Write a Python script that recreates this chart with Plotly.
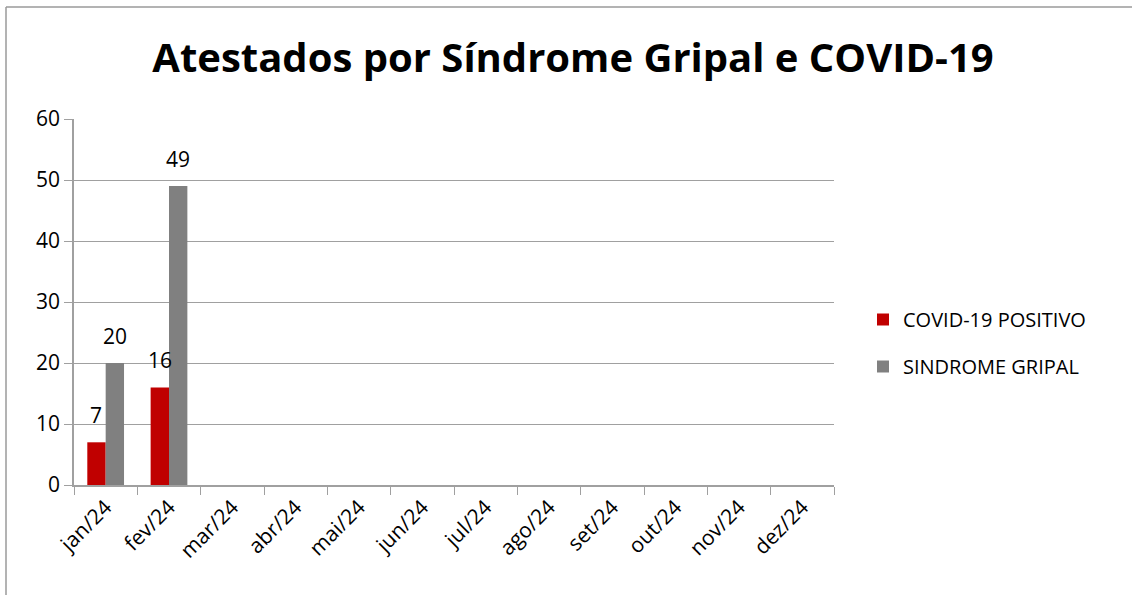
import plotly.graph_objects as go

months = ["jan/24", "fev/24", "mar/24", "abr/24", "mai/24", "jun/24",
          "jul/24", "ago/24", "set/24", "out/24", "nov/24", "dez/24"]
covid = [7, 16, None, None, None, None, None, None, None, None, None, None]
gripal = [20, 49, None, None, None, None, None, None, None, None, None, None]

FONT = "Open Sans"
W, H = 1132, 595
L, R, T, B = 74, 298, 119, 110
pw, ph = W - L - R, H - T - B
BARGAP = 0.42
half_bar = pw / len(months) * (1 - BARGAP) / 4  # centre offset of each bar

fig = go.Figure()
fig.add_trace(go.Bar(x=months, y=covid, name="COVID-19 POSITIVO",
                     marker=dict(color="#C00000", line=dict(width=0)),
                     legendgroup="a"))
fig.add_trace(go.Bar(x=months, y=gripal, name="SINDROME GRIPAL",
                     marker=dict(color="#808080", line=dict(width=0)),
                     legendgroup="b"))

# data labels above each bar
for series, sign in ((covid, -1), (gripal, 1)):
    for m, v in zip(months, series):
        if v is None:
            continue
        fig.add_annotation(x=m, y=v, xref="x", yref="y", text=str(v),
                           showarrow=False, xanchor="center", yanchor="bottom",
                           xshift=sign * half_bar, yshift=11,
                           font=dict(size=21, family=FONT, color="black"))

# frame lines (top and left visible)
px = lambda x: (x - L) / pw
py = lambda y: (H - B - y) / ph
fig.add_shape(type="line", xref="paper", yref="paper",
              x0=px(6), x1=px(1140), y0=py(7), y1=py(7),
              line=dict(color="#9a9a9a", width=1.5))
fig.add_shape(type="line", xref="paper", yref="paper",
              x0=px(6), x1=px(6), y0=py(7), y1=py(600),
              line=dict(color="#9a9a9a", width=1.5))

fig.update_layout(
    width=W, height=H,
    margin=dict(l=L, r=R, t=T, b=B),
    paper_bgcolor="white", plot_bgcolor="white",
    barmode="group", bargap=BARGAP, bargroupgap=0,
    font=dict(family=FONT, color="black"),
    title=dict(text="<b>Atestados por Síndrome Gripal e COVID-19</b>",
               x=573 / W, xanchor="center", y=1 - 58 / H, yanchor="middle",
               font=dict(size=40, family=FONT, color="black")),
    legend=dict(x=px(863), xanchor="left", y=py(300), yanchor="top",
                font=dict(size=20, family=FONT), tracegroupgap=18,
                itemwidth=30, bgcolor="rgba(0,0,0,0)"),
    showlegend=True,
)
fig.update_xaxes(type="category", tickson="boundaries", ticks="outside",
                 ticklen=8, tickcolor="#a0a0a0", showline=True,
                 linecolor="#a0a0a0", linewidth=1.5, tickangle=-45,
                 tickfont=dict(size=21, family=FONT), showgrid=False)
fig.update_yaxes(range=[0, 60], dtick=10, ticks="outside", ticklen=8,
                 tickcolor="#a0a0a0", showline=True, linecolor="#a0a0a0",
                 linewidth=1.5, showgrid=True, gridcolor="#a0a0a0",
                 gridwidth=1, zeroline=False,
                 tickfont=dict(size=21, family=FONT))

fig.write_html("out.html", config={"displayModeBar": False},
               post_script="document.body.style.margin='0';document.body.style.overflow='hidden';")
